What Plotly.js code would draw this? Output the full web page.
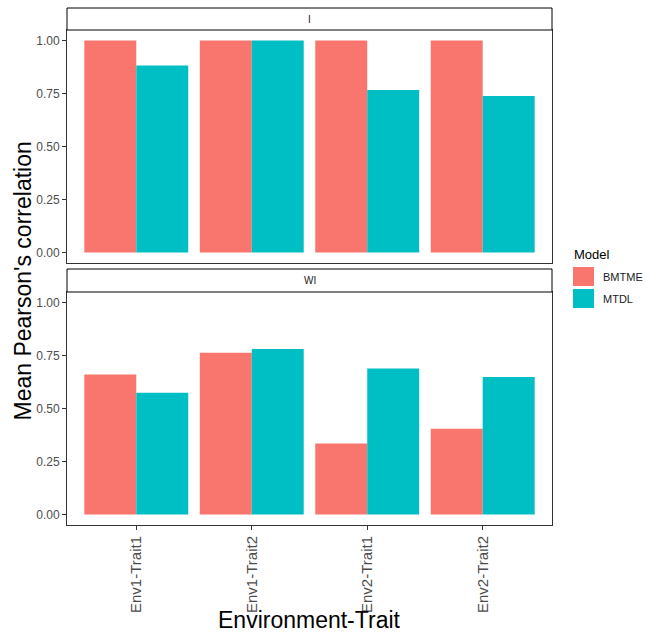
<!DOCTYPE html>
<html>
<head>
<meta charset="utf-8">
<script src="https://cdn.plot.ly/plotly-3.0.1.min.js"></script>
<style>html,body{margin:0;padding:0;background:#fff;}#chart{width:654px;height:632px;}</style>
</head>
<body>
<div id="chart"></div>
<script>
var categories = ['Env1-Trait1', 'Env1-Trait2', 'Env2-Trait1', 'Env2-Trait2'];
var models = ['BMTME', 'MTDL'];
var panels = ['I', 'WI'];
var bmtmeI  = [1.00, 1.00, 1.00, 1.00];
var mtdlI   = [0.882, 1.00, 0.767, 0.738];
var bmtmeWI = [0.660, 0.763, 0.335, 0.404];
var mtdlWI  = [0.574, 0.781, 0.689, 0.649];
var colors = ['#F8766D', '#00BFC4'];

var W = 654, H = 632;
function px(x){ return x / W; }
function py(y){ return 1 - y / H; }

var fontFam = 'Liberation Sans, Arial, sans-serif';

var traces = [
  {type:'bar', x:categories, y:bmtmeI, name:models[0], marker:{color:colors[0]}, xaxis:'x', yaxis:'y', showlegend:false},
  {type:'bar', x:categories, y:mtdlI, name:models[1], marker:{color:colors[1]}, xaxis:'x', yaxis:'y', showlegend:false},
  {type:'bar', x:categories, y:bmtmeWI, name:models[0], marker:{color:colors[0]}, xaxis:'x2', yaxis:'y2', showlegend:false},
  {type:'bar', x:categories, y:mtdlWI, name:models[1], marker:{color:colors[1]}, xaxis:'x2', yaxis:'y2', showlegend:false}
];

var yTicks = {
  range:[-0.05, 1.05], tickvals:[0, 0.25, 0.5, 0.75, 1], ticktext:['0.00','0.25','0.50','0.75','1.00'],
  showgrid:false, zeroline:false, showline:true, mirror:true, linecolor:'#333333', linewidth:1,
  ticks:'outside', ticklen:4, tickcolor:'#333333', tickfont:{family:fontFam, size:12, color:'#4D4D4D'}
};

var plotL = 67, plotR = 552;
var topT = 30, topB = 263, botT = 292, botB = 525;

var layout = {
  width:W, height:H,
  margin:{l:0, r:0, t:0, b:0},
  paper_bgcolor:'#ffffff', plot_bgcolor:'#ffffff',
  barmode:'group', bargap:0.1, bargroupgap:0,
  showlegend:false,
  font:{family:fontFam},
  xaxis:{domain:[px(plotL), px(plotR)], anchor:'y', type:'category', categoryarray:categories, range:[-0.6, 3.6],
         showticklabels:false, ticks:'', showgrid:false, zeroline:false, showline:true, mirror:true, linecolor:'#333333', linewidth:1},
  xaxis2:{domain:[px(plotL), px(plotR)], anchor:'y2', type:'category', categoryarray:categories, range:[-0.6, 3.6],
          showgrid:false, zeroline:false, showline:true, mirror:true, linecolor:'#333333', linewidth:1,
          ticks:'outside', ticklen:4, tickcolor:'#333333', tickangle:-90,
          tickfont:{family:fontFam, size:15, color:'#4D4D4D'}},
  yaxis:Object.assign({domain:[py(topB), py(topT)], anchor:'x'}, yTicks),
  yaxis2:Object.assign({domain:[py(botB), py(botT)], anchor:'x2'}, yTicks),
  shapes:[
    {type:'rect', xref:'paper', yref:'paper', x0:px(plotL), x1:px(plotR), y0:py(30), y1:py(8), fillcolor:'#ffffff', line:{color:'#000000', width:1}},
    {type:'rect', xref:'paper', yref:'paper', x0:px(plotL), x1:px(plotR), y0:py(292), y1:py(269), fillcolor:'#ffffff', line:{color:'#000000', width:1}},
    {type:'rect', xref:'paper', yref:'paper', x0:px(573), x1:px(594), y0:py(286), y1:py(267), fillcolor:colors[0], line:{width:0}},
    {type:'rect', xref:'paper', yref:'paper', x0:px(573), x1:px(594), y0:py(308), y1:py(289), fillcolor:colors[1], line:{width:0}}
  ],
  annotations:[
    {xref:'paper', yref:'paper', x:px((plotL+plotR)/2), y:py(19), text:panels[0], showarrow:false, xanchor:'center', yanchor:'middle', font:{family:fontFam, size:10, color:'#1A1A1A'}},
    {xref:'paper', yref:'paper', x:px((plotL+plotR)/2), y:py(280.5), text:panels[1], showarrow:false, xanchor:'center', yanchor:'middle', font:{family:fontFam, size:10, color:'#1A1A1A'}},
    {xref:'paper', yref:'paper', x:px(22), y:py(281.5), text:"Mean Pearson's correlation", textangle:-90, showarrow:false, xanchor:'center', yanchor:'middle', font:{family:fontFam, size:23, color:'#000000'}},
    {xref:'paper', yref:'paper', x:px(309.5), y:py(620), text:'Environment-Trait', showarrow:false, xanchor:'center', yanchor:'middle', font:{family:fontFam, size:23, color:'#000000'}},
    {xref:'paper', yref:'paper', x:px(572), y:py(255), text:'Model', showarrow:false, xanchor:'left', yanchor:'middle', font:{family:fontFam, size:13, color:'#000000'}},
    {xref:'paper', yref:'paper', x:px(601), y:py(276.5), text:models[0], showarrow:false, xanchor:'left', yanchor:'middle', font:{family:fontFam, size:11, color:'#1A1A1A'}},
    {xref:'paper', yref:'paper', x:px(601), y:py(298.5), text:models[1], showarrow:false, xanchor:'left', yanchor:'middle', font:{family:fontFam, size:11, color:'#1A1A1A'}}
  ]
};

Plotly.newPlot('chart', traces, layout, {displayModeBar:false, staticPlot:true});
</script>
</body>
</html>
